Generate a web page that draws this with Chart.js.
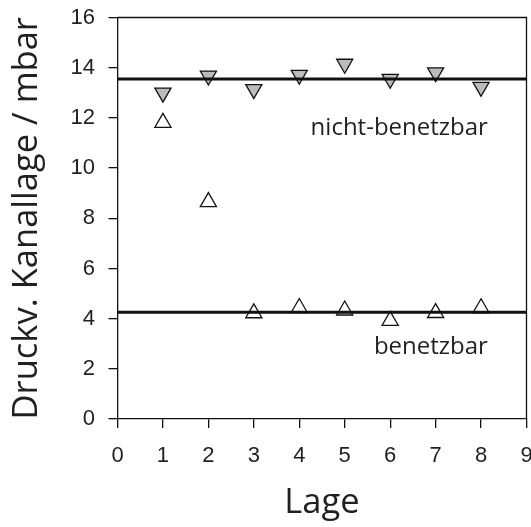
<!DOCTYPE html>
<html>
<head>
<meta charset="utf-8">
<script src="https://cdn.jsdelivr.net/npm/chart.js@4.4.0/dist/chart.umd.min.js"></script>
<style>
  html, body { margin: 0; padding: 0; background: #fff; }
  #wrap { width: 531px; height: 527px; position: relative; }
</style>
</head>
<body>
<div id="wrap"><canvas id="chart"></canvas></div>
<script>
// Lage 1..8, Druckverlust je Kanallage in mbar
const lagen = [1, 2, 3, 4, 5, 6, 7, 8];
const nichtBenetzbar = [13.0, 13.68, 13.14, 13.71, 14.15, 13.55, 13.81, 13.23];
const benetzbar = [11.81, 8.65, 4.22, 4.43, 4.33, 3.92, 4.23, 4.42];

// Mittelwert-Linien
const mittelNicht = 13.55;
const mittelBenetzbar = 4.25;
const linienX = [0, 9];

// Beschriftungen im Diagramm (Datenkoordinaten, rechtsbuendig, Grundlinie)
const beschriftungen = [
  { text: 'nicht-benetzbar', x: 8.15, y: 11.3 },
  { text: 'benetzbar', x: 8.15, y: 2.61 }
];

const toPoints = (xs, ys) => xs.map((x, i) => ({ x: x, y: ys[i] }));

// top and right edge of the frame
const framePlugin = {
  id: 'frame',
  beforeDatasetsDraw(chart) {
    const { ctx, chartArea: a } = chart;
    ctx.save();
    ctx.strokeStyle = '#111';
    ctx.lineWidth = 1.3;
    ctx.beginPath();
    ctx.moveTo(a.left, a.top);
    ctx.lineTo(a.right, a.top);
    ctx.lineTo(a.right, a.bottom);
    ctx.stroke();
    ctx.restore();
  }
};

const textPlugin = {
  id: 'texte',
  afterDatasetsDraw(chart) {
    const { ctx, scales } = chart;
    ctx.save();
    ctx.fillStyle = '#231f20';
    ctx.font = '24px "Open Sans", sans-serif';
    ctx.textAlign = 'right';
    ctx.textBaseline = 'alphabetic';
    beschriftungen.forEach(b => {
      ctx.fillText(b.text, scales.x.getPixelForValue(b.x), scales.y.getPixelForValue(b.y));
    });
    ctx.restore();
  }
};

const tickFont = { family: '"Liberation Sans", Arial, sans-serif', size: 22 };
const titleFont = { family: '"Open Sans", sans-serif', size: 34.5 };

new Chart(document.getElementById('chart'), {
  type: 'scatter',
  data: {
    datasets: [
      {
        label: 'nicht-benetzbar Mittel',
        type: 'line',
        data: toPoints(linienX, [mittelNicht, mittelNicht]),
        borderColor: '#111',
        borderWidth: 3,
        pointRadius: 0
      },
      {
        label: 'benetzbar Mittel',
        type: 'line',
        data: toPoints(linienX, [mittelBenetzbar, mittelBenetzbar]),
        borderColor: '#111',
        borderWidth: 3,
        pointRadius: 0
      },
      {
        label: 'nicht-benetzbar',
        data: toPoints(lagen, nichtBenetzbar),
        pointStyle: 'triangle',
        rotation: 180,
        pointRadius: 9.3,
        backgroundColor: '#bcbcbc',
        borderColor: '#111',
        borderWidth: 1.3
      },
      {
        label: 'benetzbar',
        data: toPoints(lagen, benetzbar),
        pointStyle: 'triangle',
        pointRadius: 9.3,
        backgroundColor: '#fff',
        borderColor: '#111',
        borderWidth: 1.3
      }
    ]
  },
  options: {
    responsive: true,
    maintainAspectRatio: false,
    animation: false,
    layout: { autoPadding: false, padding: { top: 17.5, right: 4.5, left: 0, bottom: 0 } },
    plugins: {
      legend: { display: false },
      tooltip: { enabled: false }
    },
    scales: {
      x: {
        type: 'linear',
        min: 0,
        max: 9,
        ticks: { stepSize: 1, color: '#231f20', font: tickFont, padding: 14.8 },
        grid: { drawOnChartArea: false, drawTicks: true, tickLength: 9, color: '#111', lineWidth: 1.3 },
        border: { display: true, color: '#111', width: 1.3 },
        title: { display: true, text: 'Lage', color: '#231f20', font: titleFont, padding: { top: 0, bottom: 3.5 } },
        afterFit(scale) {
          scale.height = 108;
          scale.paddingLeft = 0;
          scale.paddingRight = 0;
        }
      },
      y: {
        min: 0,
        max: 16,
        ticks: { stepSize: 2, color: '#231f20', font: tickFont, padding: 13.5 },
        grid: { drawOnChartArea: false, drawTicks: true, tickLength: 9, color: '#111', lineWidth: 1.3 },
        border: { display: true, color: '#111', width: 1.3 },
        title: { display: true, text: 'Druckv. Kanallage / mbar', color: '#231f20', font: titleFont, padding: { top: 6, bottom: 0 } },
        afterFit(scale) {
          scale.width = 117.5;
          scale.paddingTop = 0;
          scale.paddingBottom = 0;
        }
      }
    }
  },
  plugins: [framePlugin, textPlugin]
});
</script>
</body>
</html>
